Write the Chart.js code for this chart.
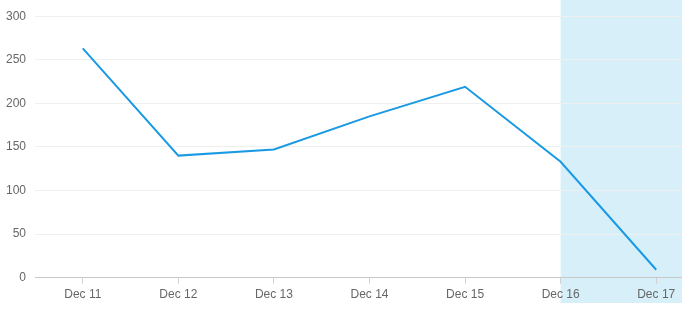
<!DOCTYPE html>
<html>
<head>
<meta charset="utf-8">
<script src="https://cdn.jsdelivr.net/npm/chart.js@4"></script>
<style>
html,body{margin:0;padding:0;background:#fff;overflow:hidden;}
#wrap{width:704px;height:310px;}
</style>
</head>
<body>
<div id="wrap"><canvas id="c" width="704" height="310"></canvas></div>
<script>
const categories = ["Dec 11","Dec 12","Dec 13","Dec 14","Dec 15","Dec 16","Dec 17"];
const values = [263, 140, 147, 185, 219, 133, 9];
const yTicks = [0, 50, 100, 150, 200, 250, 300];
const highlightFrom = "Dec 16";

const shadePlugin = {
  id: 'shade',
  beforeDraw(chart) {
    const ctx = chart.ctx;
    const xs = chart.scales.x;
    const x0 = xs.getPixelForValue(categories.indexOf(highlightFrom));
    ctx.save();
    ctx.fillStyle = '#d6eff9';
    ctx.fillRect(x0, 0, chart.width - x0, 303);
    ctx.restore();
  }
};

new Chart(document.getElementById('c'), {
  type: 'line',
  data: {
    labels: categories,
    datasets: [{
      data: values,
      borderColor: '#1a9ae3',
      borderWidth: 2,
      pointRadius: 0,
      tension: 0,
      fill: false
    }]
  },
  options: {
    responsive: false,
    animation: false,
    layout: { padding: { top: 11, left: 0, right: 0, bottom: 4 } },
    plugins: { legend: { display: false }, tooltip: { enabled: false } },
    scales: {
      x: {
        offset: true,
        grid: { display: true, drawOnChartArea: false, drawTicks: true, tickLength: 6, color: '#d0d0d0' },
        border: { display: true, color: '#c8c8c8', width: 1 },
        ticks: { color: '#666', font: { family: 'Arial, Liberation Sans, sans-serif', size: 12 }, padding: 4, maxRotation: 0 }
      },
      y: {
        min: 0, max: 300,
        afterBuildTicks(axis) { axis.ticks = yTicks.map(v => ({ value: v })); },
        afterFit(axis) { axis.width = 35; },
        grid: { color: '#efefef', drawTicks: false },
        border: { display: false },
        ticks: { color: '#666', font: { family: 'Arial, Liberation Sans, sans-serif', size: 12 }, padding: 9 }
      }
    }
  },
  plugins: [shadePlugin]
});
</script>
</body>
</html>
